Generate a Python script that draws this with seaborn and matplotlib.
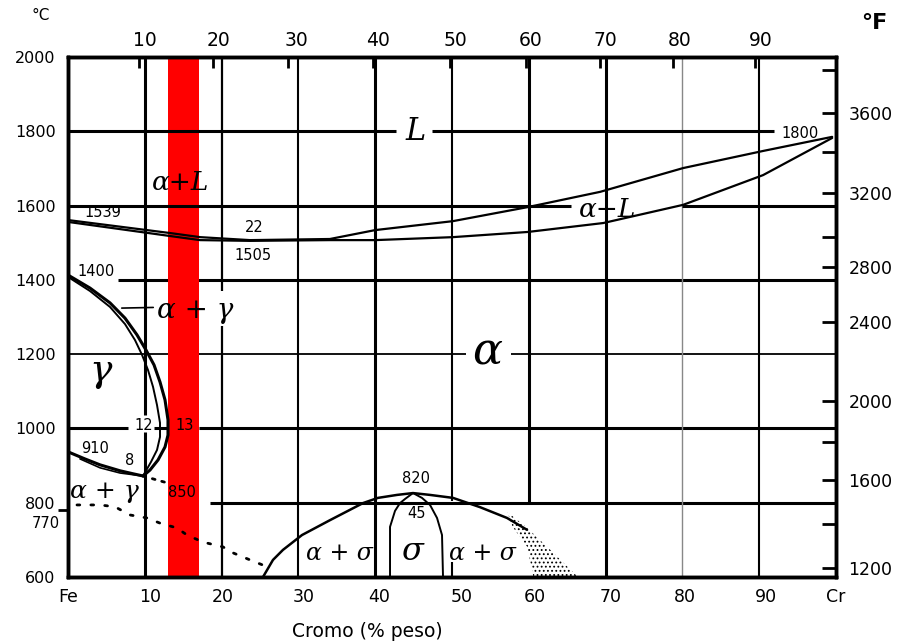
import matplotlib
matplotlib.use("Agg")
import matplotlib.pyplot as plt
import seaborn as sns

# ---------------- data ----------------
band_cr = [13, 17]                      # red band, % Cr

liq_cr = [0, 13.3, 17.2, 23.7, 34.1, 40.0, 50.1, 59.9, 69.3, 80.1, 90.5, 99.5]
liq_t = [1561, 1526, 1515, 1507, 1510, 1534, 1558, 1596, 1637, 1701, 1747, 1785]
sol_cr = [0, 13.3, 17.2, 23.7, 34.1, 40.0, 50.1, 59.9, 69.7, 80.1, 90.5, 99.5]
sol_t = [1556, 1518, 1507, 1505, 1507, 1507, 1515, 1529, 1553, 1602, 1682, 1782]

loop_out_cr = [0, 2.86, 5.47, 7.42, 8.98, 10.16, 11.20, 11.98, 12.63, 13.02, 13.02, 12.63, 11.72, 10.68, 9.77]
loop_out_t = [1413, 1378, 1338, 1297, 1252, 1211, 1171, 1125, 1077, 1023, 982, 950, 915, 888, 872]
loop_in_cr = [0, 2.86, 5.47, 7.42, 8.72, 9.64, 10.42, 11.07, 11.59, 11.98, 11.98, 11.59, 10.81, 9.77]
loop_in_t = [1408, 1370, 1327, 1281, 1238, 1198, 1157, 1112, 1063, 1015, 977, 942, 910, 872]

low_a_cr = [0, 2.2, 4.17, 6.77, 8.46, 9.77]
low_a_t = [937, 918, 902, 886, 878, 872]
low_b_cr = [1.56, 4.17, 6.77, 9.77]
low_b_t = [918, 894, 880, 872]

dot850_cr = [9.77, 11.6, 13.0]
dot850_t = [872, 861, 853]

curie_cr = [1.17, 4.17, 6.12, 8.07, 10.29, 11.98, 14.19, 15.49, 17.58, 20.18, 21.48, 23.70, 25.39]
curie_t = [794, 794, 789, 767, 759, 745, 732, 713, 694, 681, 665, 646, 632]

sig_out_cr = [25.39, 26.69, 27.99, 30.47, 34.11, 38.41, 40.36, 42.84, 44.92, 47.14, 50.13, 53.65, 57.16, 59.77]
sig_out_t = [600, 646, 673, 713, 753, 799, 813, 821, 826, 821, 813, 788, 759, 727]
sig_left_cr = [41.93, 41.93, 42.58, 43.23, 43.88, 44.92]
sig_left_t = [600, 735, 778, 799, 810, 826]
sig_right_cr = [44.92, 46.09, 47.14, 48.05, 48.70, 48.83]
sig_right_t = [826, 813, 794, 759, 713, 600]

stip_cr = [57.2, 59.8, 62.8, 66.4, 60.6, 59.8, 57.9]
stip_t = [775, 732, 673, 600, 600, 681, 735]

c_ticks = [600, 800, 1000, 1200, 1400, 1600, 1800, 2000]
bottom_pos = [0, 10.7, 20.2, 30.7, 40.5, 51.2, 60.8, 70.7, 80.3, 90.9, 100]
bottom_lab = ["Fe", "10", "20", "30", "40", "50", "60", "70", "80", "90", "Cr"]
top_pos = [10.0, 19.6, 29.8, 40.4, 50.5, 60.3, 70.0, 79.6, 90.2]
top_lab = ["10", "20", "30", "40", "50", "60", "70", "80", "90"]
top_marks = [9.3, 18.9, 28.6, 39.7, 49.8, 59.6, 69.3, 78.8, 89.5]
f_pos = [1849, 1634, 1435, 1287, 1074, 861, 624]
f_lab = ["3600", "3200", "2800", "2400", "2000", "1600", "1200"]
f_minor = [1965, 1744, 1515, 963, 743]

# ---------------- figure ----------------
sns.set_theme(style="white")
plt.rcParams["font.family"] = ["DejaVu Sans"]
for k in ("text.color", "axes.labelcolor", "xtick.color", "ytick.color"):
    plt.rcParams[k] = "black"

fig = plt.figure(figsize=(8.97, 6.43), dpi=100)
ax = fig.add_axes([68 / 897, 1 - 577 / 643, (836 - 68) / 897, (577 - 57) / 643])
ax.set_xlim(0, 100)
ax.set_ylim(600, 2000)

# grid (drawn as segments so gaps around labels are kept)
hgrid = [
    (1800, 2.2, [(0, 42.7), (47.4, 91.9)], 2.6),
    (1600, 2.2, [(0, 65.5), (80, 100)], 2.6),
    (1400, 2.2, [(6.5, 100)], 1),
    (1200, 1.3, [(0, 51.8), (57.7, 100)], 1),
    (1000, 2.2, [(0, 7.8), (11.2, 13), (17, 100)], 1),
    (800, 2.2, [(18.5, 100)], 1),
]
for yv, lw, segs, z in hgrid:
    for a, b in segs:
        ax.hlines(yv, a, b, color="black", lw=lw, zorder=z)

vgrid = [
    (10, 2.2, [(600, 990), (1035, 2000)], "black"),
    (20, 1.6, [(600, 1275), (1370, 2000)], "black"),
    (30, 1.5, [(600, 2000)], "black"),
    (40, 2.2, [(600, 2000)], "black"),
    (50, 1.5, [(600, 640), (805, 2000)], "black"),
    (60, 2.2, [(800, 2000)], "black"),
    (70, 2.2, [(600, 2000)], "black"),
    (80, 1.0, [(600, 2000)], "#888888"),
    (90, 1.5, [(600, 2000)], "black"),
]
for xv, lw, segs, col in vgrid:
    for a, b in segs:
        ax.vlines(xv, a, b, color=col, lw=lw, zorder=1)

# red band
ax.axvspan(band_cr[0], band_cr[1], color="#ff0000", lw=0, zorder=2)

# phase boundaries
def line(xs, ys, lw=1.6, **kw):
    sns.lineplot(x=xs, y=ys, sort=False, estimator=None, color="black",
                 linewidth=lw, ax=ax, zorder=4, **kw)

line(liq_cr, liq_t, 1.6)
line(sol_cr, sol_t, 1.6)
line(loop_out_cr, loop_out_t, 2.2)
line(loop_in_cr, loop_in_t, 1.4)
line(low_a_cr, low_a_t, 2.2)
line(low_b_cr, low_b_t, 1.2)
line(sig_out_cr, sig_out_t, 1.8)
line(sig_left_cr, sig_left_t, 1.4)
line(sig_right_cr, sig_right_t, 1.4)
ax.plot(dot850_cr, dot850_t, color="black", lw=2.0, ls=(0, (1, 2.5)),
        dash_capstyle="round", zorder=4)
ax.plot(curie_cr, curie_t, color="black", lw=2.0, ls=(0, (1, 4)),
        dash_capstyle="round", zorder=4)
plt.rcParams["hatch.linewidth"] = 0.8
ax.fill(stip_cr, stip_t, facecolor="none", edgecolor="black", hatch="....",
        lw=0, zorder=3)

# labels
greek = dict(family="DejaVu Serif", style="italic", color="black",
             ha="center", va="baseline", zorder=5)
ax.text(45.2, 1777, "L", fontsize=22, **greek)
ax.text(14.6, 1642, "α+L", fontsize=19, **greek)
ax.annotate("α + γ", xy=(7.0, 1324), xytext=(16.5, 1297), fontsize=20,
            arrowprops=dict(arrowstyle="-", lw=1.2, color="black",
                            shrinkA=0, shrinkB=0,
                            relpos=(0, 0.62)), **greek)
ax.text(4.2, 1128, "γ", fontsize=27, **greek)
ax.text(54.6, 1171, "α", fontsize=32, **greek)
ax.text(70.2, 1570, "α+L", fontsize=19, **greek)
ax.text(4.8, 813, "α + γ", fontsize=18, **greek)
ax.text(35.4, 646, "α + σ", fontsize=17, **greek)
ax.text(44.8, 646, "σ", fontsize=23, **greek)
ax.text(54.0, 646, "α + σ", fontsize=17, **greek)

small = dict(fontsize=10.5, color="black", ha="center", va="baseline",
             zorder=5, clip_on=False)
for txt, xv, yv in [("1539", 4.6, 1569), ("22", 24.2, 1529), ("1505", 24.1, 1453),
                    ("1400", 3.6, 1410), ("1800", 95.3, 1782), ("12", 9.9, 996),
                    ("13", 15.2, 996), ("910", 3.5, 934), ("8", 8.0, 902),
                    ("850", 14.9, 815), ("770", -2.9, 732), ("820", 45.3, 853),
                    ("45", 45.4, 759)]:
    ax.text(xv, yv, txt, **small)

# axes / ticks
for s in ax.spines.values():
    s.set_linewidth(2.4)
    s.set_color("black")
    s.set_zorder(6)
ax.set_yticks(c_ticks)
ax.set_yticklabels([str(v) for v in c_ticks])
ax.set_yticks([780], minor=True)
ax.tick_params(axis="y", which="major", length=0, pad=9, labelsize=11.5,
               labelcolor="black")
ax.tick_params(axis="y", which="minor", left=True, direction="out",
               length=7, width=2, color="black")
ax.set_xticks(bottom_pos)
ax.set_xticklabels(bottom_lab)
ax.tick_params(axis="x", which="major", length=0, pad=8, labelsize=12.5,
               labelcolor="black")
ax.set_xlabel("")
ax.set_ylabel("")
ax.grid(False)

ax2 = ax.twinx()
ax2.set_ylim(600, 2000)
ax2.set_yticks(f_pos)
ax2.set_yticklabels(f_lab)
ax2.set_yticks(f_minor, minor=True)
ax2.tick_params(axis="y", which="both", direction="in", length=10, width=2,
                color="black", labelcolor="black", labelsize=12.5, pad=9)
ax2.grid(False)

ax3 = ax.twiny()
ax3.set_xlim(0, 100)
ax3.set_xticks(top_pos)
ax3.set_xticklabels(top_lab)
ax3.set_xticks(top_marks, minor=True)
ax3.tick_params(axis="x", which="major", length=0, pad=5, labelsize=13.5,
                labelcolor="black")
ax3.tick_params(axis="x", which="minor", top=True, direction="in", length=8,
                width=2, color="black")
ax3.grid(False)
for a in (ax2, ax3):
    for s in a.spines.values():
        s.set_linewidth(2.4)
        s.set_color("black")

ax.text(0.39, -0.115, "Cromo (% peso)", transform=ax.transAxes, ha="center",
        va="baseline", fontsize=13.5, color="black")
fig.text(41 / 897, 1 - 16 / 643, "°C", ha="center", va="center", fontsize=11,
         color="black")
fig.text(874 / 897, 1 - 23 / 643, "°F", ha="center", va="center",
         fontsize=16, fontweight="bold", color="black")

fig.savefig("out.png", dpi=100)
